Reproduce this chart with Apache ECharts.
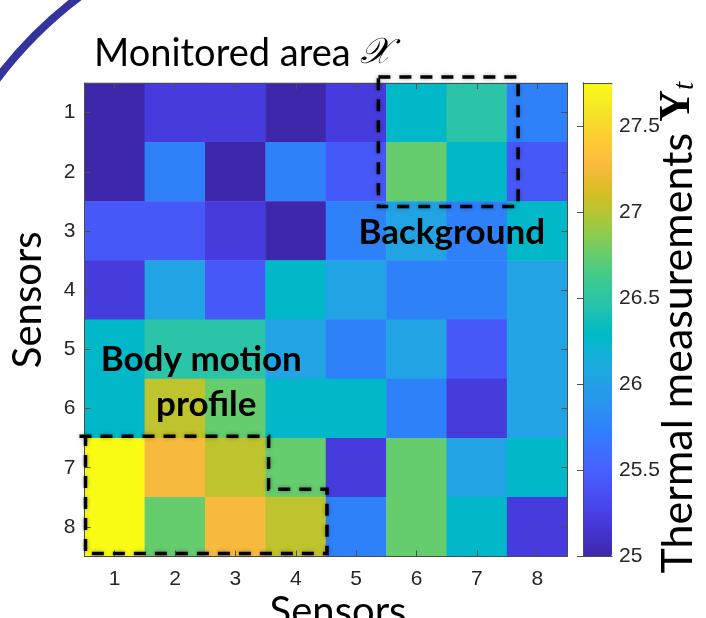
<!DOCTYPE html>
<html><head><meta charset="utf-8">
<script src="https://cdn.jsdelivr.net/npm/echarts@6/dist/echarts.min.js"></script>
<style>html,body{margin:0;padding:0;background:#fff}#c{width:706px;height:618px}</style>
</head><body><div id="c"></div>
<script>
// ---- data ----
const xCategories = ['1','2','3','4','5','6','7','8'];
const yCategories = ['1','2','3','4','5','6','7','8'];
const row1 = [25.01, 25.22, 25.22, 25.01, 25.22, 26.27, 26.48, 25.74];
const row2 = [25.01, 25.74, 25.01, 25.74, 25.44, 26.75, 26.27, 25.44];
const row3 = [25.44, 25.44, 25.22, 25.01, 25.74, 26.03, 25.74, 26.27];
const row4 = [25.22, 26.03, 25.44, 26.27, 26.03, 25.74, 25.74, 26.03];
const row5 = [26.27, 26.48, 26.48, 26.03, 25.74, 26.03, 25.44, 26.03];
const row6 = [26.27, 27.03, 26.75, 26.27, 26.27, 25.74, 25.22, 26.03];
const row7 = [27.75, 27.27, 27.03, 26.75, 25.22, 26.75, 26.03, 26.27];
const row8 = [27.75, 26.75, 27.27, 27.03, 25.74, 26.75, 26.27, 25.22];
const colorbarTicks = [25, 25.5, 26, 26.5, 27, 27.5];
const colorMin = 25;
const colorMax = 27.75;

// parula colormap (64 levels)
const parula = ['#3e26a8','#402ab4','#422ec0','#4332cb','#4537d5','#463cde','#4741e5','#4747eb','#484df0','#4852f4','#4758f8','#465efb','#4563fd','#4269fe','#3e6fff','#3875fe','#327cfc','#2f81fa','#2e87f7','#2d8cf3','#2b91ef','#2797eb','#259be8','#23a0e5','#20a5e3','#1ca9df','#18addb','#12b1d6','#08b5d0','#01b8ca','#02bac3','#0bbdbd','#19bfb6','#24c1ae','#2cc4a7','#31c69f','#37c897','#3fca8e','#4acb84','#57cc7a','#64cd6f','#72cd64','#81cc59','#8fcb4e','#9dc943','#abc739','#b9c431','#c5c22a','#d1bf27','#dcbd29','#e6bb2d','#f0ba36','#f8ba3d','#febe3c','#fec338','#fec934','#fccf30','#fad62d','#f7dc2a','#f5e327','#f5e924','#f6ef20','#f7f51b','#f9fb15'];

const rows = [row1, row2, row3, row4, row5, row6, row7, row8];
const heatData = [];
rows.forEach((r, j) => r.forEach((v, i) => heatData.push([i, j, v])));

const frame = '#4d4d4d';
const tickC = '#262626';
const labelFont = 'Liberation Sans';
const textFont = 'Lato';

function frameAxis(extra) {
  return Object.assign({
    z: 5,
    axisLine: {show: true, lineStyle: {color: frame, width: 1}},
    splitLine: {show: false},
    silent: true
  }, extra);
}

const chart = echarts.init(document.getElementById('c'), null, {renderer: 'canvas'});

const dashStyle = {fill: 'none', stroke: '#000', lineWidth: 3.5, lineDash: [12, 9],
  shadowBlur: 4, shadowColor: 'rgba(0,0,0,0.35)'};
const annFont = 35;

chart.setOption({
  animation: false,
  backgroundColor: '#fff',
  title: {
    text: '{a|Monitored area }{b|𝒳}',
    left: 89, top: 30,
    textStyle: {fontWeight: 'normal', rich: {
      a: {fontSize: 38, fontFamily: textFont, fontWeight: 'normal', color: '#000'},
      b: {fontSize: 36, fontFamily: 'DejaVu Serif', fontStyle: 'italic', fontWeight: 'normal', color: '#000'}
    }}
  },
  grid: [
    {left: 84.5, top: 83, width: 483, height: 473.5, outerBoundsMode: 'none', containLabel: false},
    {left: 583, top: 83, width: 29, height: 473.5, outerBoundsMode: 'none', containLabel: false}
  ],
  xAxis: [
    frameAxis({gridIndex: 0, type: 'category', data: xCategories, position: 'bottom',
      axisTick: {show: true, inside: true, alignWithLabel: true, length: 6, lineStyle: {color: frame}},
      axisLabel: {fontSize: 21, color: tickC, fontFamily: labelFont, margin: 12},
      name: 'Sensors', nameLocation: 'middle', nameGap: 36, nameMoveOverlap: false,
      nameTextStyle: {fontSize: 40, fontFamily: textFont, color: '#000', padding: [0, 0, 0, 24]}}),
    frameAxis({gridIndex: 0, type: 'category', data: xCategories, position: 'top',
      axisTick: {show: true, inside: true, alignWithLabel: true, length: 6, lineStyle: {color: frame}},
      axisLabel: {show: false}}),
    frameAxis({gridIndex: 1, type: 'value', min: 0, max: 1, position: 'bottom',
      axisTick: {show: false}, axisLabel: {show: false}}),
    frameAxis({gridIndex: 1, type: 'value', min: 0, max: 1, position: 'top',
      axisTick: {show: false}, axisLabel: {show: false}})
  ],
  yAxis: [
    frameAxis({gridIndex: 0, type: 'category', data: yCategories, inverse: true, position: 'left',
      axisTick: {show: true, inside: true, alignWithLabel: true, length: 6, lineStyle: {color: frame}},
      axisLabel: {fontSize: 21, color: tickC, fontFamily: labelFont, margin: 9},
      name: 'Sensors', nameLocation: 'middle', nameGap: 36, nameRotate: 90, nameMoveOverlap: false,
      nameTextStyle: {fontSize: 40, fontFamily: textFont, color: '#000', padding: [0, 0, 0, 40]}}),
    frameAxis({gridIndex: 0, type: 'category', data: yCategories, inverse: true, position: 'right',
      axisTick: {show: true, inside: true, alignWithLabel: true, length: 6, lineStyle: {color: frame}},
      axisLabel: {show: false}}),
    frameAxis({gridIndex: 1, type: 'value', min: colorMin, max: colorMax, position: 'left',
      axisTick: {show: false}, axisLabel: {show: false}}),
    frameAxis({gridIndex: 1, type: 'value', min: colorMin, max: colorMax, position: 'right',
      axisTick: {show: true, inside: true, length: 6, customValues: colorbarTicks, lineStyle: {color: frame}},
      axisLabel: {customValues: colorbarTicks, fontSize: 21, color: tickC, fontFamily: labelFont, margin: 7},
      name: '{a|Thermal measurements }{y|Y}{t|t}', nameLocation: 'middle', nameRotate: 90, nameGap: 44,
      nameMoveOverlap: false,
      nameTextStyle: {padding: [0, 16, 0, 0], rich: {
        a: {fontSize: 43, fontFamily: textFont, color: '#000'},
        y: {fontSize: 44, fontFamily: 'Liberation Serif', fontWeight: 'bold', color: '#000'},
        t: {fontSize: 29, fontFamily: 'Liberation Serif', fontStyle: 'italic', color: '#000', verticalAlign: 'bottom'}
      }}})
  ],
  visualMap: {
    type: 'continuous', min: colorMin, max: colorMax, seriesIndex: 0, dimension: 2,
    inRange: {color: parula}, orient: 'vertical',
    left: 583, top: 83, itemWidth: 29, itemHeight: 473.5, padding: 0,
    calculable: false, hoverLink: false, showLabel: false, z: 2
  },
  series: [
    {
      type: 'heatmap', xAxisIndex: 0, yAxisIndex: 0, data: heatData,
      itemStyle: {borderWidth: 0}, emphasis: {disabled: true}, silent: true, z: 2
    },
    {
      type: 'custom', xAxisIndex: 0, yAxisIndex: 0, data: [[0, 0]], clip: false, silent: true, z: 10,
      renderItem: function (params, api) {
        const c = api.coord([0, 0]);
        const s = api.size([1, 1]);
        const X = e => c[0] + (e - 0.5) * s[0];
        const Y = e => c[1] + (e - 0.5) * s[1];
        return {type: 'group', children: [
          {type: 'polygon', shape: {points: [
            [X(5) - 8, Y(0) - 6], [X(7) + 11, Y(0) - 6], [X(7) + 11, Y(2) + 5], [X(5) - 8, Y(2) + 5]
          ]}, style: dashStyle},
          {type: 'polyline', shape: {points: [
            [X(0) - 5, Y(6) - 2], [X(3) + 3, Y(6) - 2], [X(3) + 3, Y(7) - 8],
            [X(4) + 1, Y(7) - 8], [X(4) + 1, Y(8) - 3], [X(0) + 1, Y(8) - 3], [X(0) + 1, Y(6) - 2]
          ]}, style: dashStyle},
          {type: 'text', style: {text: 'Background', x: X(6) + 5, y: Y(2) + 31,
            align: 'center', verticalAlign: 'middle', fontSize: annFont, fontWeight: 'bold', fontFamily: textFont, fill: '#000'}},
          {type: 'text', style: {text: 'Body motion', x: X(2) - 4, y: Y(5) - 19,
            align: 'center', verticalAlign: 'middle', fontSize: annFont, fontWeight: 'bold', fontFamily: textFont, fill: '#000'}},
          {type: 'text', style: {text: 'profile', x: X(2) + 1, y: Y(5) + 26,
            align: 'center', verticalAlign: 'middle', fontSize: annFont, fontWeight: 'bold', fontFamily: textFont, fill: '#000'}}
        ]};
      }
    }
  ],
  graphic: [
    {type: 'arc', silent: true, z: 100,
     shape: {cx: 330, cy: 330, r: 417, startAngle: Math.PI * 1.08, endAngle: Math.PI * 1.42},
     style: {stroke: '#34349c', lineWidth: 8, fill: 'none'}}
  ]
});
</script></body></html>
